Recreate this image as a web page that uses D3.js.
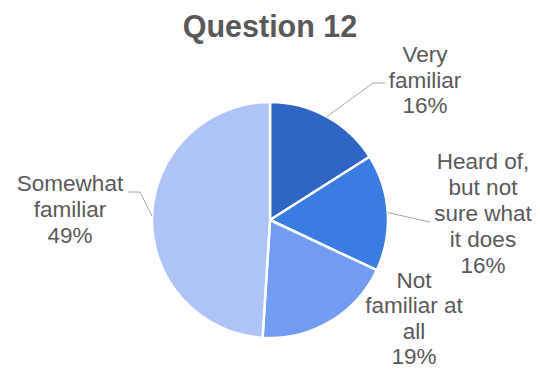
<!DOCTYPE html>
<html>
<head>
<meta charset="utf-8">
<script src="https://cdn.jsdelivr.net/npm/d3@7"></script>
<style>
  html, body { margin: 0; padding: 0; background: #fff; }
  svg { display: block; }
  text { font-family: "Liberation Sans", Arial, sans-serif; fill: #595959; }
</style>
</head>
<body>
<svg id="chart" width="540" height="372"></svg>
<script>
// Survey responses, Question 12
const categories = ["Very familiar", "Heard of, but not sure what it does", "Not familiar at all", "Somewhat familiar"];
const values = [16, 16, 19, 49];
const labelLines = [
  ["Very", "familiar"],
  ["Heard of,", "but not", "sure what", "it does"],
  ["Not", "familiar at", "all"],
  ["Somewhat", "familiar"]
];
const colors = ["#2f65c4", "#3a7ce2", "#729cf1", "#afc4f6"];

const W = 540, H = 372;
const cx = 270, cy = 220, R = 118;
const fontSize = 22.5;

const svg = d3.select("#chart");

svg.append("text")
  .attr("x", cx).attr("y", 37)
  .attr("text-anchor", "middle")
  .style("font-size", "30.5px")
  .style("font-weight", "bold")
  .text("Question 12");

const pie = d3.pie().sort(null).value(d => d);
const arcs = pie(values);
const arc = d3.arc().innerRadius(0).outerRadius(R);

const g = svg.append("g").attr("transform", `translate(${cx},${cy})`);

g.selectAll("path.slice")
  .data(arcs)
  .join("path")
  .attr("class", "slice")
  .attr("d", arc)
  .attr("fill", (d, i) => colors[i])
  .attr("stroke", "#fff")
  .attr("stroke-width", 2.5)
  .attr("stroke-linejoin", "round");

// point on the rim at a slice's mid angle
function rim(d) {
  const a = (d.startAngle + d.endAngle) / 2;
  return [cx + R * Math.sin(a), cy - R * Math.cos(a)];
}

// label placement: centre x, first baseline, line step, leader elbow points
const layout = [
  { x: 425, y: 62, step: 25.5, leader: [[373, 83], [385, 83]] },
  { x: 483, y: 169, step: 26, leader: [[430, 222]] },
  { x: 414, y: 288, step: 25.3, leader: null },
  { x: 70, y: 191, step: 26, leader: [[140, 192], [128, 192]] }
];

const lineGen = d3.line();
arcs.forEach((d, i) => {
  const L = layout[i];
  if (L.leader) {
    svg.append("path")
      .attr("d", lineGen([rim(d), ...L.leader]))
      .attr("fill", "none")
      .attr("stroke", "#a6a6a6")
      .attr("stroke-width", 1);
  }
  const t = svg.append("text")
    .attr("text-anchor", "middle")
    .style("font-size", fontSize + "px");
  const lines = labelLines[i].concat([values[i] + "%"]);
  lines.forEach((s, k) => {
    t.append("tspan")
      .attr("x", L.x)
      .attr("y", L.y + k * L.step)
      .text(s);
  });
});
</script>
</body>
</html>
